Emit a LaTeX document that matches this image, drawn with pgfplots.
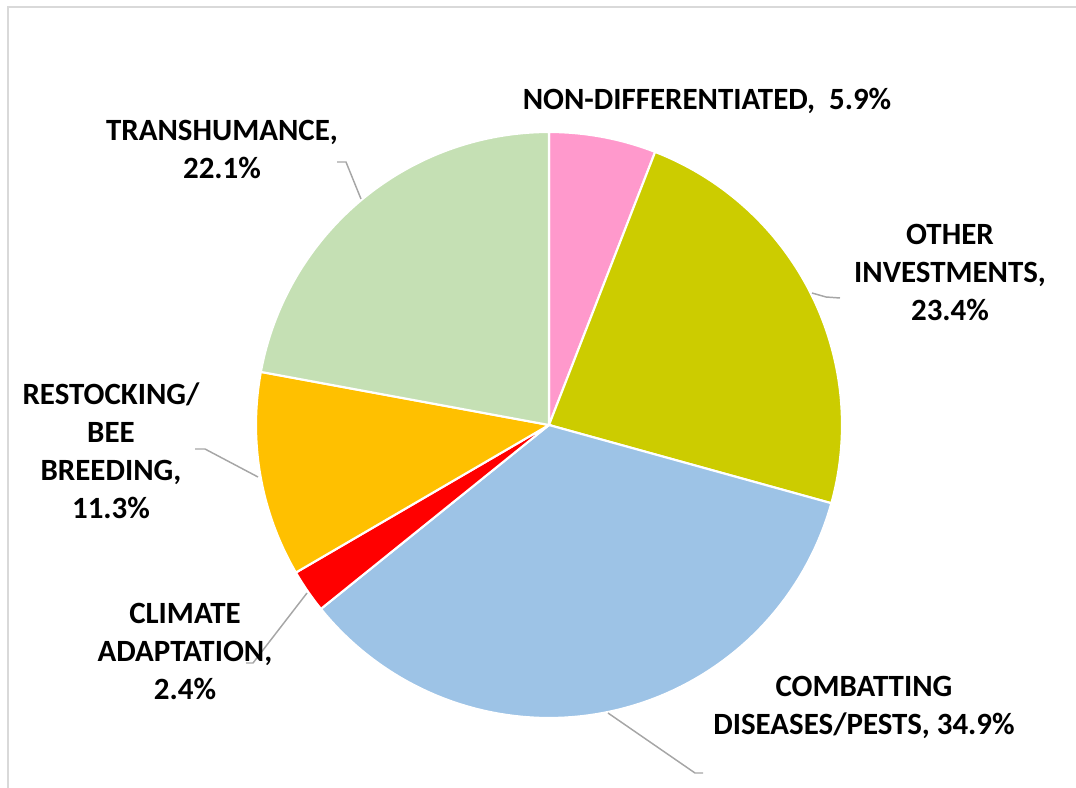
\documentclass[border=0pt]{standalone}
\usepackage{pgfplots}
\pgfplotsset{compat=1.18}
\usepackage{fontspec}
\setmainfont{Carlito}
\definecolor{cNon}{HTML}{FF99CC}
\definecolor{cOth}{HTML}{CCCC00}
\definecolor{cCom}{HTML}{9DC3E6}
\definecolor{cCli}{HTML}{FF0000}
\definecolor{cRes}{HTML}{FFC000}
\definecolor{cTra}{HTML}{C5E0B4}
\definecolor{cLead}{HTML}{A6A6A6}
\definecolor{cFrame}{HTML}{D9D9D9}
\tikzset{lbl/.style={font=\fontsize{23.2}{28.5}\selectfont\bfseries, align=center, text=black, inner sep=0pt}}
% shares (%), clockwise from 12 o'clock:
% Non-differentiated 5.9, Other investments 23.4, Combatting diseases/pests 34.9,
% Climate adaptation 2.4, Restocking/bee breeding 11.3, Transhumance 22.1
\newcommand{\slice}[3]{%
  \addplot[fill=#3, draw=white, line width=1.6pt, samples=80, domain={90-3.6*(#2)}:{90-3.6*(#1)}, variable=\t]
    ({549+293*cos(\t)}, {425-293*sin(\t)}) -- (axis cs:549,425) -- cycle;}
\begin{document}
\begin{tikzpicture}
\begin{axis}[
  width=807pt, height=591pt, scale only axis,
  xmin=0, xmax=1076, ymin=0, ymax=788, y dir=reverse,
  hide axis, clip=false
]
\addplot[draw=cFrame, line width=1.5pt] coordinates {(8,788) (8,7) (1076,7)};
\slice{0}{5.9}{cNon}
\slice{5.9}{29.3}{cOth}
\slice{29.3}{64.2}{cCom}
\slice{64.2}{66.6}{cCli}
\slice{66.6}{77.9}{cRes}
\slice{77.9}{100}{cTra}
% leader lines
\addplot[draw=cLead, line width=1.1pt] coordinates {(337,162) (346,162) (361,199)};
\addplot[draw=cLead, line width=1.1pt] coordinates {(812,293) (826,297) (840,298)};
\addplot[draw=cLead, line width=1.1pt] coordinates {(195,449) (205,449) (258,477)};
\addplot[draw=cLead, line width=1.1pt] coordinates {(307,593) (253,663) (246,663)};
\addplot[draw=cLead, line width=1.1pt] coordinates {(608,713) (695,773) (703,773)};
% labels
\node[lbl] at (axis cs:707,101) {NON-DIFFERENTIATED,\ \ 5.9\%};
\node[lbl] at (axis cs:222,149) {TRANSHUMANCE,\\22.1\%};
\node[lbl] at (axis cs:950,272) {OTHER\\INVESTMENTS,\\23.4\%};
\node[lbl] at (axis cs:111,451) {RESTOCKING/\\BEE\\BREEDING,\\11.3\%};
\node[lbl] at (axis cs:185,651) {CLIMATE\\ADAPTATION,\\2.4\%};
\node[lbl] at (axis cs:864,707) {COMBATTING\\DISEASES/PESTS, 34.9\%};
\end{axis}
\pgfresetboundingbox
\path (current axis.south west) rectangle (current axis.north east);
\end{tikzpicture}
\end{document}
